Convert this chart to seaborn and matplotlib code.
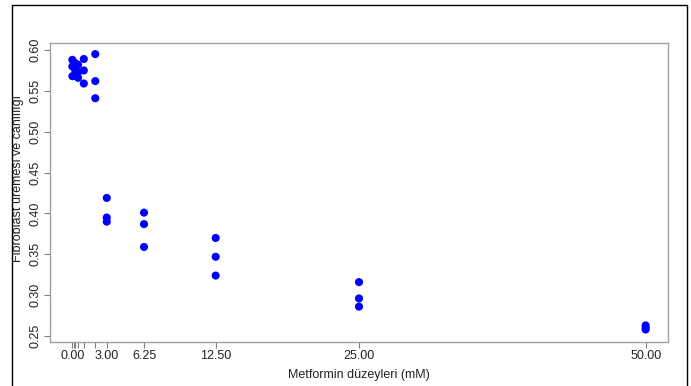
import matplotlib
matplotlib.use("Agg")
import matplotlib.pyplot as plt
import seaborn as sns
import pandas as pd
from matplotlib.lines import Line2D
from matplotlib.transforms import Bbox, TransformedBbox

# ---- data ----
doses = [0, 0, 0, 0.25, 0.25, 0.25, 0.5, 0.5, 0.5, 1, 1, 1, 2, 2, 2,
         3, 3, 3, 6.25, 6.25, 6.25, 12.5, 12.5, 12.5, 25, 25, 25, 50, 50, 50]
viability = [0.588, 0.580, 0.568, 0.584, 0.575, 0.569, 0.582, 0.573, 0.566,
             0.589, 0.575, 0.559, 0.595, 0.562, 0.541,
             0.419, 0.395, 0.390, 0.401, 0.387, 0.359,
             0.370, 0.347, 0.324, 0.316, 0.296, 0.286,
             0.263, 0.260, 0.258]
tick_positions = [0, 0.125, 0.25, 0.5, 1, 2, 3, 6.25, 12.5, 25, 50]
tick_labels = ["0.00", "", "", "", "", "", "3.00", "6.25", "12.50", "25.00", "50.00"]
y_ticks = [0.25, 0.30, 0.35, 0.40, 0.45, 0.50, 0.55, 0.60]
x_title = "Metformin düzeyleri (mM)"
y_title = "Fibroblast üremesi ve canlılığı"

df = pd.DataFrame({"dose": doses, "viability": viability})

sns.set_theme(style="white")
plt.rcParams["font.family"] = ["Liberation Sans", "DejaVu Sans"]

W, H = 691, 386
fig = plt.figure(figsize=(W / 100, H / 100), dpi=100)
ax = fig.add_axes([50 / W, 1 - 342 / H, (668 - 50) / W, (342 - 43) / H])

sns.scatterplot(data=df, x="dose", y="viability", ax=ax, color="#0000ff",
                s=34, edgecolor="none", linewidth=0, legend=False)

ax.set_xlim(-1.95, 51.95)
ax.set_ylim(0.2427, 0.6086)
ax.set_xticks(tick_positions)
ax.set_xticklabels(tick_labels)
ax.set_yticks(y_ticks)
ax.set_yticklabels([f"{v:.2f}" for v in y_ticks], rotation=90, va="center")

for sp in ax.spines.values():
    sp.set_color("#a0a0a0")
    sp.set_linewidth(1.0)

ax.tick_params(axis="both", which="both", direction="out", length=4, width=0.8,
               color="#808080", labelsize=9, labelcolor="#222222", pad=2,
               bottom=True, left=True)
ax.set_xlabel(x_title, fontsize=9, color="#222222", labelpad=5)
ax.set_ylabel("")

# y title (clipped at the left frame like the reference)
t = fig.text(18 / W, 1 - 178 / H, y_title, rotation=90, ha="center", va="center",
             fontsize=9, color="#222222")
t.set_clip_box(TransformedBbox(Bbox([[13 / W, 0], [1, 1]]), fig.transFigure))
t.set_clip_on(True)

# outer frame
fy = 1 - 5 / H
fig.add_artist(Line2D([12 / W, 12 / W], [0, fy], transform=fig.transFigure, color="black", lw=1))
fig.add_artist(Line2D([12 / W, 687 / W], [fy, fy], transform=fig.transFigure, color="black", lw=1))
fig.add_artist(Line2D([687 / W, 687 / W], [0, fy], transform=fig.transFigure, color="black", lw=1))

fig.savefig("out.png", dpi=100)
